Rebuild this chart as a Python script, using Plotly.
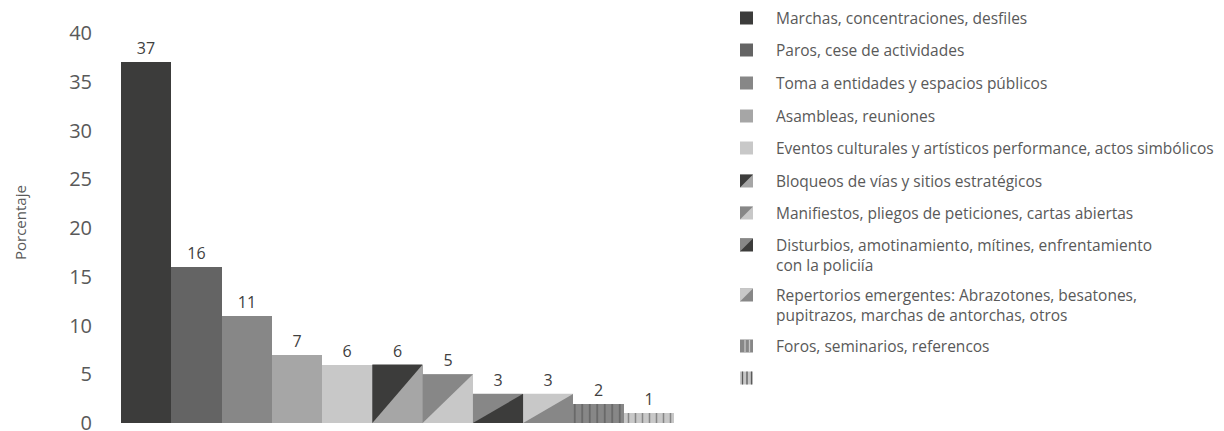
import plotly.graph_objects as go

# ---------------- data ----------------
categories = [
    "Marchas, concentraciones, desfiles",
    "Paros, cese de actividades",
    "Toma a entidades y espacios públicos",
    "Asambleas, reuniones",
    "Eventos culturales y artísticos performance, actos simbólicos",
    "Bloqueos de vías y sitios estratégicos",
    "Manifiestos, pliegos de peticiones, cartas abiertas",
    "Disturbios, amotinamiento, mítines, enfrentamiento\ncon la policiía",
    "Repertorios emergentes: Abrazotones, besatones,\npupitrazos, marchas de antorchas, otros",
    "Foros, seminarios, referencos",
    "",
]
values = [37, 16, 11, 7, 6, 6, 5, 3, 3, 2, 1]
y_ticks = [0, 5, 10, 15, 20, 25, 30, 35, 40]

# ---------------- styles ----------------
D, G2, G3, G4, G5 = "#3c3c3b", "#646464", "#878787", "#a6a6a6", "#c8c8c8"
base_colors = [D, G2, G3, G4, G5, G4, G5, D, G3, G3, G5]
upper_colors = [None, None, None, None, None, D, G3, G3, G5, None, None]
pattern_shape = ["", "", "", "", "", "", "", "", "", "|", "|"]
pattern_fg = [D, D, D, D, D, D, D, D, D, G5, "#5a5a5a"]
pattern_size = [8, 8, 8, 8, 8, 8, 8, 8, 8, 7.5, 7]

FONT = "Open Sans"
TXT = "#595959"

W, H = 1224, 431
L, T, PW, PH = 121, 33, 553, 390  # plot area in px

xs = list(range(len(values)))

fig = go.Figure()
fig.add_trace(go.Bar(
    x=xs, y=values, width=1,
    marker=dict(
        color=base_colors, line=dict(width=0),
        pattern=dict(shape=pattern_shape, fgcolor=pattern_fg, size=pattern_size,
                     solidity=0.22, fillmode="overlay"),
    ),
    text=[str(v) for v in values], textposition="outside",
    textfont=dict(family=FONT, size=16, color="#404040"),
    cliponaxis=False, showlegend=False, hoverinfo="skip",
))

# diagonal split: upper-left triangle of each split bar
for i, (v, c) in enumerate(zip(values, upper_colors)):
    if c is None:
        continue
    fig.add_trace(go.Scatter(
        x=[i - 0.5, i - 0.5, i + 0.5, i - 0.5], y=[0, v, v, 0],
        mode="lines", fill="toself", fillcolor=c, line=dict(width=0),
        showlegend=False, hoverinfo="skip",
    ))

# ---------------- custom legend ----------------
def px2x(px):
    return (px - L) / PW

def px2y(py):
    return (T + PH - py) / PH

row_centers = [18, 50, 83, 116, 148, 181, 213, 245, 295, 346, 378]
ix0, ix1 = 740, 753
LINE_H = 19.5
shapes = []
annotations = []
for k, cy in enumerate(row_centers):
    y0, y1 = cy + 6.5, cy - 6.5  # pixel bottom/top
    X0, X1, Y0, Y1 = px2x(ix0), px2x(ix1), px2y(y0), px2y(y1)
    shapes.append(dict(type="rect", xref="paper", yref="paper", x0=X0, x1=X1, y0=Y0, y1=Y1,
                       fillcolor=base_colors[k], line=dict(width=0), layer="above"))
    if upper_colors[k] is not None:
        path = f"M {X0},{Y0} L {X0},{Y1} L {X1},{Y1} Z"
        shapes.append(dict(type="path", xref="paper", yref="paper", path=path,
                           fillcolor=upper_colors[k], line=dict(width=0), layer="above"))
    if pattern_shape[k] == "|":
        pos = [745, 749.5] if k == 9 else [742.5, 747, 751.5]
        for p in pos:
            shapes.append(dict(type="line", xref="paper", yref="paper",
                               x0=px2x(p), x1=px2x(p), y0=Y0, y1=Y1,
                               line=dict(color=pattern_fg[k], width=1.3), layer="above"))
    lines = categories[k].split("\n")
    if lines[0]:
        annotations.append(dict(
            xref="paper", yref="paper", x=px2x(774),
            y=px2y(cy + (len(lines) - 1) * LINE_H / 2),
            xanchor="left", yanchor="middle", align="left", showarrow=False,
            text="<br>".join(lines),
            font=dict(family=FONT, size=15.5, color=TXT),
        ))

annotations.append(dict(
    xref="paper", yref="paper", x=px2x(20), y=px2y(222), textangle=-90,
    xanchor="center", yanchor="middle", showarrow=False, text="Porcentaje",
    font=dict(family=FONT, size=15, color=TXT),
))

fig.update_layout(
    width=W, height=H,
    margin=dict(l=L, r=W - L - PW, t=T, b=H - T - PH, pad=0, autoexpand=False),
    paper_bgcolor="white", plot_bgcolor="white",
    bargap=0, showlegend=False,
    shapes=shapes, annotations=annotations,
    xaxis=dict(range=[-0.5, len(values) - 0.5], showticklabels=False, showgrid=False,
               zeroline=False, showline=False, ticks="", automargin=False),
    yaxis=dict(range=[0, 40], tickvals=y_ticks, showgrid=False, zeroline=False,
               showline=False, ticks="", ticklabelstandoff=28, ticklabeloverflow="allow",
               automargin=False,
               tickfont=dict(family=FONT, size=20, color=TXT)),
    font=dict(family=FONT),
)

fig.write_html("out.html")
